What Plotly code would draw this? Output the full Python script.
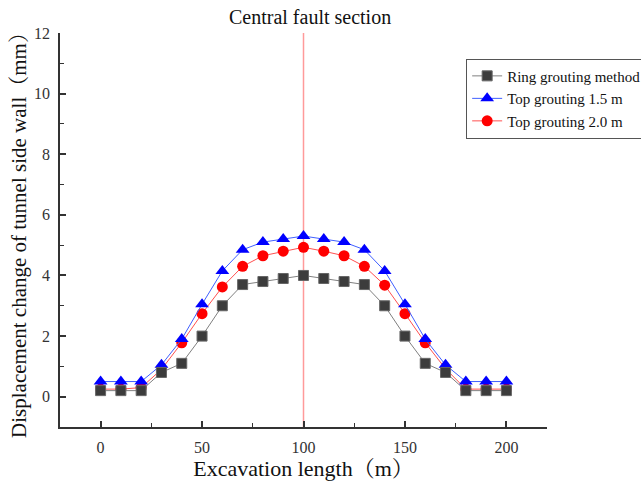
import plotly.graph_objects as go

# Excavation positions (m)
excavation_length = [0, 10, 20, 30, 40, 50, 60, 70, 80, 90, 100,
                     110, 120, 130, 140, 150, 160, 170, 180, 190, 200]

# Side-wall displacement change (mm) for each grouting scheme
ring_grouting = [0.2, 0.2, 0.2, 0.8, 1.1, 2.0, 3.0, 3.7, 3.8, 3.9, 4.0,
                 3.9, 3.8, 3.7, 3.0, 2.0, 1.1, 0.8, 0.2, 0.2, 0.2]
top_grouting_15 = [0.5, 0.5, 0.5, 1.05, 1.9, 3.05, 4.15, 4.85, 5.1, 5.2, 5.3,
                   5.2, 5.1, 4.85, 4.15, 3.05, 1.9, 1.05, 0.5, 0.5, 0.5]
top_grouting_20 = [0.25, 0.25, 0.3, 0.9, 1.78, 2.74, 3.62, 4.3, 4.65, 4.8, 4.93,
                   4.8, 4.65, 4.3, 3.68, 2.74, 1.78, 0.92, 0.25, 0.25, 0.25]

fault_position = 100
x_ticks = [0, 50, 100, 150, 200]
y_ticks = [0, 2, 4, 6, 8, 10, 12]

serif = "Liberation Serif, Times New Roman, Noto Serif CJK SC, Noto Sans CJK SC, serif"

fig = go.Figure()

fig.add_trace(go.Scatter(
    x=excavation_length, y=top_grouting_20, mode="lines+markers",
    name="Top grouting 2.0 m", legendrank=3,
    line=dict(color="#ff5050", width=1),
    marker=dict(symbol="circle", size=11, color="#ff0000",
                line=dict(color="#ff0000", width=0)),
))
fig.add_trace(go.Scatter(
    x=excavation_length, y=top_grouting_15, mode="lines+markers",
    name="Top grouting 1.5 m", legendrank=2,
    line=dict(color="#4060ff", width=1),
    marker=dict(symbol="triangle-up", size=12, color="#0000ff",
                line=dict(color="#0000ff", width=0)),
))
fig.add_trace(go.Scatter(
    x=excavation_length, y=ring_grouting, mode="lines+markers",
    name="Ring grouting method", legendrank=1,
    line=dict(color="#808080", width=1),
    marker=dict(symbol="square", size=10, color="#3c3c3c",
                line=dict(color="#666666", width=1)),
))

# Vertical marker at the central fault
fig.add_shape(type="line", xref="x", yref="paper",
              x0=fault_position, x1=fault_position, y0=0, y1=1,
              line=dict(color="#ff9a9a", width=1.5), layer="below")
fig.add_annotation(x=fault_position, xref="x", y=1, yref="paper",
                   yanchor="bottom", yshift=3, xshift=6, showarrow=False,
                   text="Central fault section",
                   font=dict(family=serif, size=20, color="#111111"))

axis_common = dict(
    showline=True, linecolor="#333333", linewidth=1.5,
    ticks="inside", ticklen=6, tickwidth=1.5, tickcolor="#333333",
    showgrid=False, zeroline=False, mirror=False,
    ticklabelstandoff=5,
    tickfont=dict(family=serif, size=16, color="#333333"),
)

fig.update_xaxes(
    range=[-20, 220], tickvals=x_ticks,
    minor=dict(ticks="inside", ticklen=4, tickwidth=1.2,
               tickcolor="#333333", dtick=25, tick0=0),
    title=dict(text="Excavation length（m）",
               font=dict(family=serif, size=22, color="#111111"), standoff=4),
    **axis_common,
)
fig.update_yaxes(
    range=[-1, 12], tickvals=y_ticks,
    minor=dict(ticks="inside", ticklen=4, tickwidth=1.2,
               tickcolor="#333333", dtick=1, tick0=0),
    title=dict(text="Displacement change of tunnel side wall（mm）",
               font=dict(family=serif, size=21, color="#111111"), standoff=2),
    **axis_common,
)

fig.update_layout(
    width=641, height=482,
    margin=dict(l=60, r=94, t=33, b=55, autoexpand=False),
    paper_bgcolor="white", plot_bgcolor="white",
    legend=dict(x=0.834, xref="paper", xanchor="left",
                y=0.935, yref="paper", yanchor="top",
                bgcolor="white", bordercolor="#555555", borderwidth=1,
                font=dict(family=serif, size=15, color="#111111"),
                itemwidth=30, tracegroupgap=0),
    showlegend=True,
)

fig.write_html("out.html")
